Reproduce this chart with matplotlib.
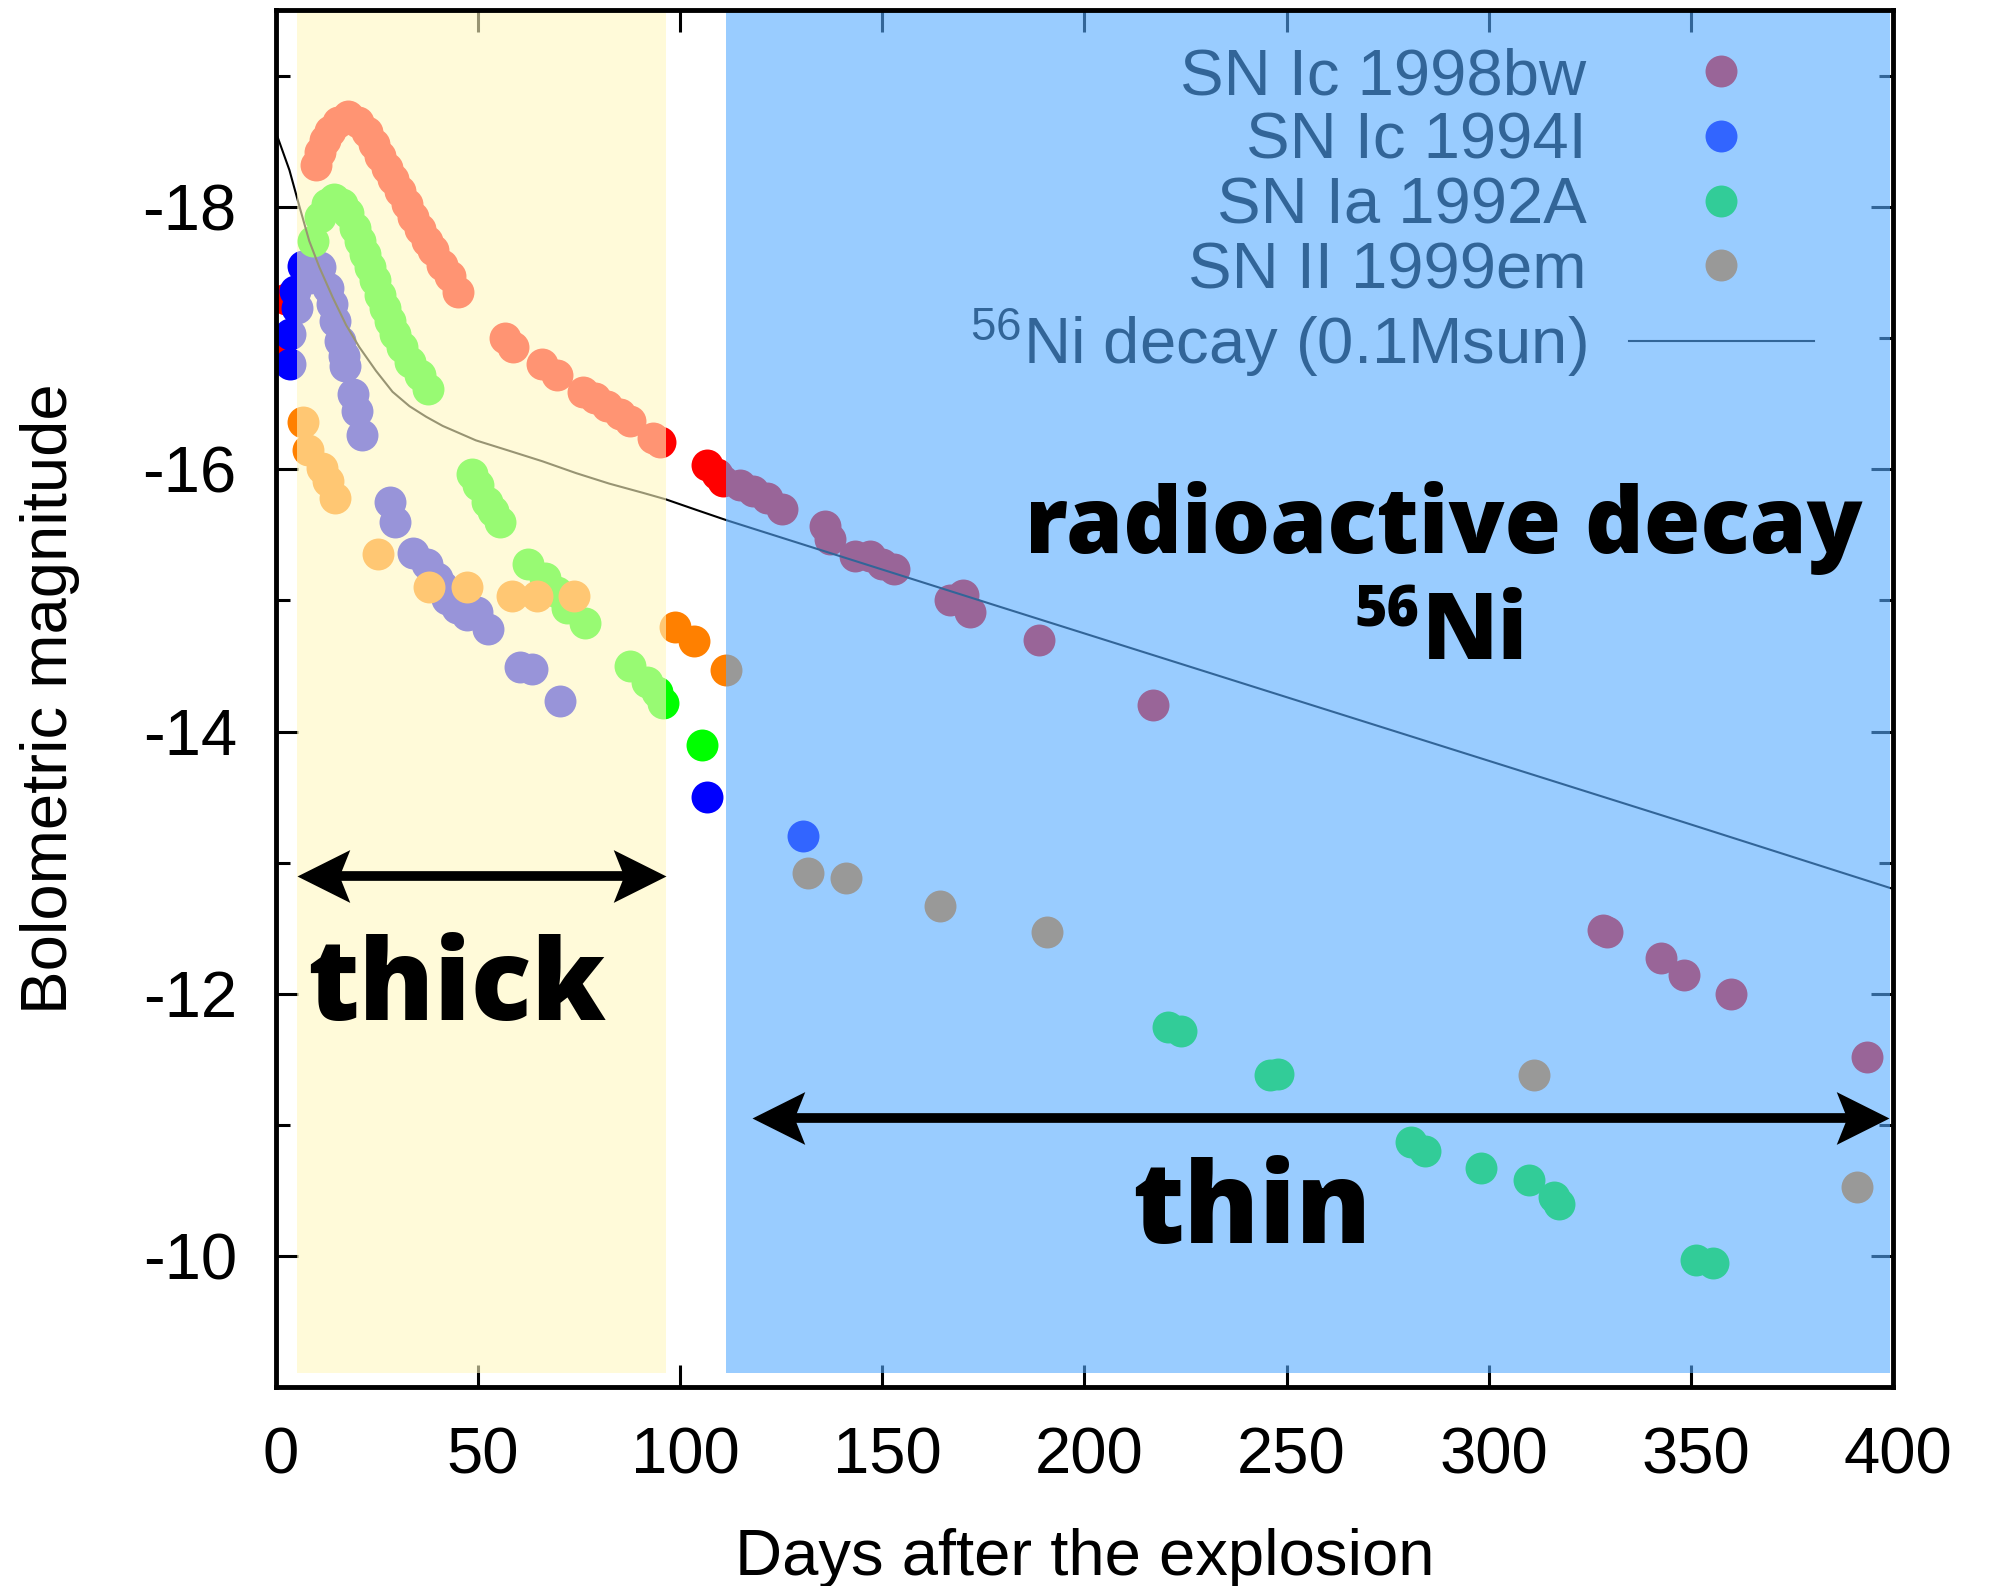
import matplotlib
matplotlib.use("Agg")
import matplotlib.pyplot as plt
import matplotlib.transforms as mtransforms
from matplotlib.path import Path

plt.rcParams['font.family'] = ['Liberation Sans', 'DejaVu Sans']
plt.rcParams['axes.unicode_minus'] = False
plt.rcParams['mathtext.fontset'] = 'custom'
plt.rcParams['mathtext.rm'] = 'Liberation Sans'
plt.rcParams['mathtext.it'] = 'Liberation Sans:italic'
plt.rcParams['mathtext.bf'] = 'Liberation Sans:bold'

# SN Ic 1998bw (days, bolometric mag)
bw_t = [1.0, 2.5, 9.9, 11.0, 12.2, 13.4, 15.5, 18.0, 20.4, 22.5, 24.2, 25.8, 27.5,
        29.1, 30.7, 32.4, 34.0, 35.7, 37.4, 39.0, 41.1, 43.1, 45.2, 56.7, 58.8,
        65.8, 69.5, 76.1, 79.0, 81.9, 85.2, 87.6, 93.4, 95.1, 106.6, 109.1, 110.7,
        114.8, 118.1, 121.4, 125.1, 135.9, 137.1, 143.3, 147.0, 149.9, 152.8,
        166.8, 170.1, 171.7, 188.9, 217.1, 328.2, 329.3, 342.6, 348.2, 360.0, 393.5]
bw_m = [-16.95, -17.30, -18.32, -18.42, -18.51, -18.58, -18.65, -18.69, -18.65, -18.57,
        -18.48, -18.39, -18.30, -18.21, -18.12, -18.02, -17.92, -17.83, -17.74, -17.67,
        -17.56, -17.47, -17.35, -17.00, -16.93, -16.80, -16.72, -16.59, -16.54, -16.48,
        -16.42, -16.37, -16.24, -16.21, -16.03, -15.96, -15.91, -15.88, -15.83, -15.78,
        -15.70, -15.57, -15.47, -15.34, -15.34, -15.28, -15.24, -15.00, -15.04, -14.91,
        -14.70, -14.20, -12.49, -12.47, -12.27, -12.14, -12.00, -11.52]

# SN Ic 1994I
i94_t = [3.5, 3.5, 4.8, 5.2, 6.8, 8.5, 11.0, 13.0, 13.9, 14.7, 15.9, 16.9, 17.1, 19.2,
         20.2, 21.3, 28.3, 29.5, 34.0, 37.4, 39.8, 41.1, 42.3, 44.8, 47.2, 49.7, 52.6,
         60.4, 63.3, 70.3, 106.6, 130.3]
i94_m = [-16.80, -17.03, -17.36, -17.23, -17.55, -17.46, -17.54, -17.38, -17.26, -17.13,
         -16.98, -16.86, -16.79, -16.57, -16.44, -16.26, -15.75, -15.60, -15.36, -15.28,
         -15.17, -15.11, -15.01, -14.94, -14.89, -14.91, -14.78, -14.49, -14.48, -14.23,
         -13.50, -13.20]

# SN Ia 1992A
a92_t = [9.3, 11.0, 12.6, 14.3, 16.3, 18.0, 19.6, 20.9, 22.1, 23.3, 24.6, 25.8, 27.0,
         28.3, 29.5, 31.2, 33.2, 35.7, 37.7, 48.5, 50.1, 52.2, 53.8, 55.5, 62.5, 66.6,
         69.5, 72.0, 76.5, 87.6, 91.8, 94.2, 95.9, 105.4, 220.6, 224.0, 246.0, 247.9,
         280.9, 284.2, 298.1, 310.0, 316.1, 317.3, 351.4, 355.4]
a92_m = [-17.74, -17.92, -18.02, -18.06, -18.02, -17.95, -17.84, -17.74, -17.64, -17.54,
         -17.44, -17.33, -17.23, -17.13, -17.03, -16.93, -16.82, -16.72, -16.61, -15.96,
         -15.88, -15.75, -15.68, -15.60, -15.28, -15.17, -15.06, -14.94, -14.83, -14.50,
         -14.38, -14.30, -14.22, -13.90, -11.75, -11.72, -11.38, -11.39, -10.87, -10.80,
         -10.67, -10.58, -10.45, -10.40, -9.97, -9.95]

# SN II 1999em
em_t = [6.8, 8.1, 11.4, 13.0, 14.7, 25.4, 38.0, 47.4, 58.4, 64.6, 73.8, 98.8, 103.5,
        111.4, 131.6, 141.0, 164.4, 190.8, 311.3, 391.0]
em_m = [-16.36, -16.15, -16.01, -15.91, -15.78, -15.35, -15.10, -15.10, -15.03, -15.03,
        -15.03, -14.80, -14.69, -14.47, -12.92, -12.88, -12.67, -12.47, -11.38, -10.53]

# 56Ni decay curve (0.1 Msun)
ni_t = [0, 0.5, 3.4, 5.9, 8.3, 10.8, 14.1, 17.4, 20.7, 24.8, 28.9, 33.1, 37.2, 41.3,
        49.5, 57.8, 66.0, 74.3, 82.5, 90.8, 96.5, 104.0, 111.6, 179.2, 253.3, 348.1, 400]
ni_m = [-18.56, -18.53, -18.28, -18.00, -17.74, -17.54, -17.31, -17.10, -16.93, -16.75,
        -16.59, -16.48, -16.40, -16.33, -16.22, -16.14, -16.06, -15.97, -15.89, -15.82,
        -15.77, -15.69, -15.61, -14.95, -14.23, -13.31, -12.80]

fig = plt.figure(figsize=(19.92, 15.86), dpi=100)
ax = fig.add_axes([0.1384, 0.1253, 0.8119, 0.8683])

ms = 23
ax.plot(bw_t, bw_m, 'o', ms=ms, color='#ff0000', mew=0, label='SN Ic 1998bw', zorder=2)
ax.plot(i94_t, i94_m, 'o', ms=ms, color='#0000ff', mew=0, label='SN Ic 1994I', zorder=2)
ax.plot(a92_t, a92_m, 'o', ms=ms, color='#00ff00', mew=0, label='SN Ia 1992A', zorder=2)
ax.plot(em_t, em_m, 'o', ms=ms, color='#ff8000', mew=0, label='SN II 1999em', zorder=2)
ax.plot(ni_t, ni_m, '-', color='black', lw=1.5, label='$^{56}$Ni decay (0.1Msun)', zorder=2.1)

ax.set_xlim(0, 400)
ax.set_ylim(-9, -19.5)
ax.set_xticks(range(0, 401, 50))
ax.set_yticks([-18, -16, -14, -12, -10])
ax.set_yticks(range(-19, -8), minor=True)
ax.tick_params(which='both', direction='in', top=True, right=True, width=2.2,
               labelsize=47, color='black')
ax.tick_params(which='major', length=16)
ax.tick_params(which='minor', length=10)
ax.tick_params(axis='x', pad=28)
ax.tick_params(axis='y', pad=28)
shift = mtransforms.ScaledTranslation(0.05, 0, fig.dpi_scale_trans)
for lab in ax.get_xticklabels():
    lab.set_transform(lab.get_transform() + shift)
for s in ax.spines.values():
    s.set_linewidth(3.5)
    s.set_zorder(10)

ax.set_xlabel('Days after the explosion', fontsize=47)
ax.set_ylabel('Bolometric magnitude', fontsize=47)
ax.xaxis.set_label_coords(0.5, -0.102)
ax.yaxis.set_label_coords(-0.121, 0.5)

leg = ax.legend(loc='upper right', bbox_to_anchor=(0.951, 0.973), frameon=False,
                markerfirst=False, fontsize=47, handlelength=2.83, handletextpad=0.65,
                labelspacing=0.07, borderpad=0, borderaxespad=0)
leg.set_zorder(2.8)

# optically thick / thin overlays (translucent, above the data)
ax.axvspan(5.3, 96.5, ymin=0.0105, ymax=1, color='#fff8c1', alpha=0.6, lw=0, zorder=3)
ax.axvspan(111.3, 399.2, ymin=0.0105, ymax=1, color='#55aaff', alpha=0.6, lw=0, zorder=3)

bold = dict(family=['Open Sans', 'Lato', 'DejaVu Sans'], fontweight=800, color='black', zorder=6)
ax.text(288.8, -15.36, 'radioactive decay', ha='center', va='baseline', fontsize=66, **bold)
ax.text(283.4, -14.55, 'Ni', ha='left', va='baseline', fontsize=66, **bold)
ax.text(283.0, -14.80, '56', ha='right', va='baseline', fontsize=40, **bold)
ax.text(44.6, -11.80, 'thick', ha='center', va='baseline', fontsize=81, **bold)
ax.text(241.3, -10.10, 'thin', ha='center', va='baseline', fontsize=81, **bold)

# stealth-style arrow heads, tip at the marker origin
head_r = Path([(0, 0), (-1, 0.5), (-0.8, 0), (-1, -0.5), (0, 0)],
              [Path.MOVETO, Path.LINETO, Path.LINETO, Path.LINETO, Path.CLOSEPOLY])
head_l = Path([(0, 0), (1, 0.5), (0.8, 0), (1, -0.5), (0, 0)],
              [Path.MOVETO, Path.LINETO, Path.LINETO, Path.LINETO, Path.CLOSEPOLY])
for x0, x1, y in [(5.3, 96.5, -12.90), (117.8, 399.0, -11.05)]:
    ax.plot([x0 + 9, x1 - 9], [y, y], color='black', lw=7, solid_capstyle='butt', zorder=6)
    ax.plot([x0], [y], marker=head_l, ms=76, mew=0, color='black', zorder=6, clip_on=False)
    ax.plot([x1], [y], marker=head_r, ms=76, mew=0, color='black', zorder=6, clip_on=False)

fig.savefig('out.png', dpi=100)
